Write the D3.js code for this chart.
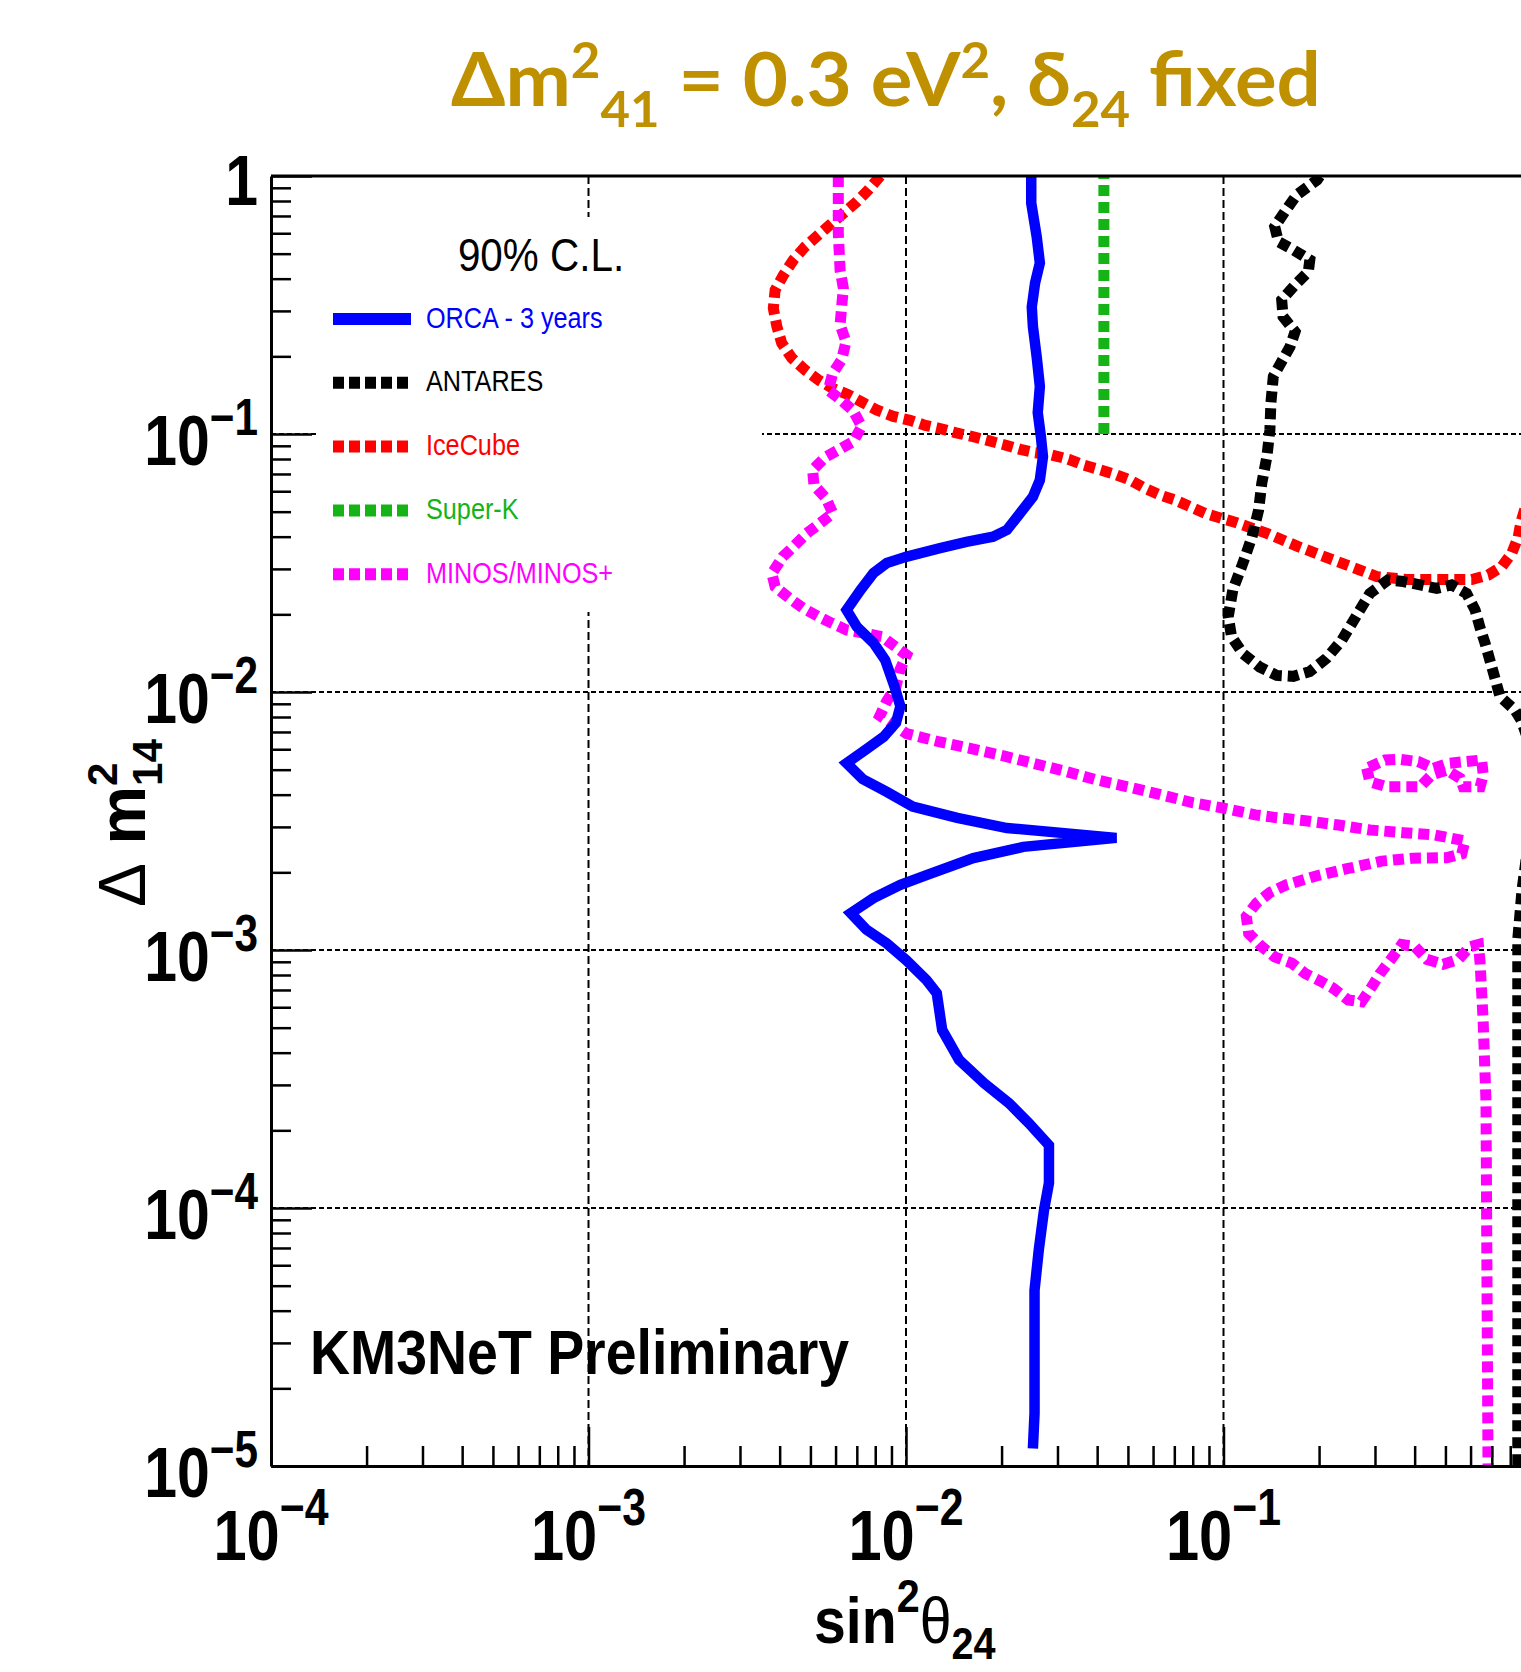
<!DOCTYPE html>
<html>
<head>
<meta charset="utf-8">
<title>KM3NeT ORCA sterile sensitivity</title>
<script src="https://cdn.jsdelivr.net/npm/d3@7"></script>
<style>
  body { margin: 0; background: #fff; }
  svg { display: block; }
</style>
</head>
<body>
<div id="chart"></div>
<script>
// every contour point is [sin^2 theta24, delta m^2 14]
var orca = [
  [0.0248, 1], [0.0248, 0.786], [0.0258, 0.582], [0.0264, 0.46], [0.0255, 0.385], [0.0249, 0.311],
  [0.0251, 0.261], [0.0258, 0.199], [0.0264, 0.153], [0.026, 0.121], [0.0266, 0.0976], [0.027, 0.0817],
  [0.0264, 0.0663], [0.0251, 0.0571], [0.0229, 0.0494], [0.0208, 0.0425], [0.0188, 0.040], [0.0155, 0.0382],
  [0.0128, 0.0361], [0.0100, 0.0334], [0.0087, 0.0316], [0.0079, 0.0289], [0.0072, 0.0249], [0.0065, 0.0208],
  [0.0070, 0.0179], [0.0079, 0.0155], [0.0086, 0.0133], [0.0092, 0.0105], [0.0096, 0.0088], [0.0093, 0.0076],
  [0.0085, 0.0067], [0.0075, 0.0060], [0.0065, 0.0053], [0.0073, 0.0046], [0.0087, 0.0041], [0.0105, 0.0036],
  [0.0145, 0.00325], [0.0208, 0.00297], [0.046, 0.00272], [0.0234, 0.00251], [0.0163, 0.00227], [0.0116, 0.00195],
  [0.0096, 0.00179], [0.0079, 0.00159], [0.0067, 0.00139], [0.0075, 0.0012], [0.0087, 0.00106], [0.0100, 0.000915],
  [0.0116, 0.000765], [0.0125, 0.00068], [0.0130, 0.00049], [0.0147, 0.000375], [0.0176, 0.000305], [0.0211, 0.000255],
  [0.0244, 0.000213], [0.0282, 0.000175], [0.0282, 0.000125], [0.0272, 0.000098], [0.0262, 0.000069], [0.0254, 0.000048],
  [0.0254, 0.000016], [0.0251, 0.0000117]
];
var antares = [
  [0.201, 1], [0.197, 0.965], [0.170, 0.844], [0.156, 0.727], [0.145, 0.636], [0.149, 0.556], [0.166, 0.517],
  [0.187, 0.473], [0.185, 0.426], [0.168, 0.378], [0.1525, 0.331], [0.154, 0.285], [0.168, 0.249], [0.162, 0.218],
  [0.1525, 0.191], [0.1435, 0.167], [0.141, 0.1315], [0.140, 0.1036], [0.137, 0.0817], [0.132, 0.0644],
  [0.129, 0.0507], [0.123, 0.040], [0.115, 0.0315], [0.107, 0.0249], [0.1035, 0.0196], [0.106, 0.0164],
  [0.115, 0.0141], [0.130, 0.0125], [0.147, 0.0116], [0.166, 0.0115], [0.187, 0.012], [0.211, 0.0135],
  [0.236, 0.0159], [0.250, 0.0179], [0.269, 0.0208], [0.289, 0.0241], [0.330, 0.0272], [0.368, 0.0268],
  [0.416, 0.026], [0.469, 0.0252], [0.523, 0.026], [0.583, 0.0241], [0.620, 0.0208], [0.643, 0.0177],
  [0.666, 0.0155], [0.700, 0.0125], [0.743, 0.0096], [0.828, 0.0085], [0.865, 0.0078], [0.957, 0.0055],
  [0.923, 0.0029], [0.871, 0.0017], [0.845, 0.0011], [0.845, 0.00001]
];
var icecube = [
  [0.0083, 1], [0.0076, 0.882], [0.0070, 0.795], [0.00635, 0.717], [0.00576, 0.646], [0.0053, 0.591],
  [0.00481, 0.532], [0.00442, 0.473], [0.00411, 0.413], [0.00387, 0.361], [0.00382, 0.307], [0.00392, 0.261],
  [0.00406, 0.225], [0.00437, 0.197], [0.00481, 0.177], [0.0053, 0.162], [0.0059, 0.150], [0.00658, 0.142],
  [0.00734, 0.132], [0.00808, 0.124], [0.00912, 0.117], [0.0103, 0.113], [0.0115, 0.108], [0.0128, 0.105],
  [0.0144, 0.101], [0.0163, 0.0976], [0.0182, 0.0942], [0.0205, 0.0907], [0.0229, 0.0872], [0.0255, 0.0846],
  [0.0288, 0.0829], [0.0325, 0.0798], [0.0362, 0.0758], [0.0403, 0.073], [0.0455, 0.0698], [0.0508, 0.0663],
  [0.0566, 0.0616], [0.0631, 0.058], [0.0703, 0.0555], [0.0784, 0.0523], [0.0874, 0.0493], [0.0987, 0.0471],
  [0.110, 0.0453], [0.137, 0.0412], [0.172, 0.0366], [0.214, 0.033], [0.269, 0.0297], [0.304, 0.028],
  [0.378, 0.0273], [0.475, 0.0273], [0.605, 0.0273], [0.682, 0.0284], [0.752, 0.0306], [0.809, 0.0345],
  [0.848, 0.040], [0.865, 0.0457], [0.897, 0.053]
];
var superK = [[0.042, 0.1], [0.042, 1]];
var minos = [
  [0.00612, 1], [0.00612, 0.601], [0.0062, 0.432], [0.00635, 0.367], [0.00627, 0.311], [0.0062, 0.265],
  [0.00647, 0.228], [0.00627, 0.194], [0.00588, 0.172], [0.00569, 0.148], [0.00627, 0.135], [0.00682, 0.123],
  [0.00725, 0.107], [0.00682, 0.0934], [0.00617, 0.0872], [0.00556, 0.0812], [0.00508, 0.0725], [0.00513, 0.0634],
  [0.0056, 0.0563], [0.00588, 0.0493], [0.00536, 0.0451], [0.00487, 0.0412], [0.00442, 0.0366], [0.00409, 0.0334],
  [0.00378, 0.0288], [0.00387, 0.0256], [0.00429, 0.0231], [0.00475, 0.0211], [0.0053, 0.0196], [0.00583, 0.0185],
  [0.0065, 0.0174], [0.00839, 0.0164], [0.00912, 0.0152], [0.01004, 0.0139], [0.00957, 0.0122], [0.0093, 0.0105],
  [0.00869, 0.0092], [0.00828, 0.0081], [0.01004, 0.0069], [0.0128, 0.0064], [0.0159, 0.00605], [0.0203, 0.00565],
  [0.0252, 0.00529], [0.0321, 0.00491], [0.0399, 0.00456], [0.0508, 0.00427], [0.0639, 0.00399], [0.0803, 0.00372],
  [0.101, 0.00354], [0.126, 0.00334], [0.1435, 0.00327], [0.181, 0.00317], [0.230, 0.00305], [0.289, 0.00292],
  [0.368, 0.00285], [0.464, 0.00279], [0.576, 0.00265], [0.563, 0.00236], [0.505, 0.00228], [0.396, 0.00227],
  [0.315, 0.00221], [0.247, 0.00207], [0.197, 0.00194], [0.158, 0.00179], [0.140, 0.00167], [0.127, 0.00152],
  [0.118, 0.00135], [0.120, 0.00116], [0.132, 0.00103], [0.145, 0.00094], [0.164, 0.00089], [0.181, 0.00081],
  [0.201, 0.00076], [0.222, 0.00071], [0.247, 0.00064], [0.272, 0.00063], [0.293, 0.00072], [0.311, 0.00081],
  [0.339, 0.00093], [0.364, 0.00105], [0.401, 0.00103], [0.437, 0.00092], [0.492, 0.00088], [0.549, 0.00092],
  [0.598, 0.00103], [0.635, 0.00105], [0.643, 0.00089], [0.657, 0.00054], [0.671, 0.00026], [0.681, 0.00001]
];
var minosLoop = [
  [0.2825, 0.00506], [0.289, 0.00449], [0.327, 0.00429], [0.368, 0.00429], [0.416, 0.00429], [0.4525, 0.00477],
  [0.505, 0.00498], [0.556, 0.00463], [0.569, 0.00429], [0.643, 0.00429], [0.658, 0.00477], [0.650, 0.00545],
  [0.576, 0.00537], [0.5105, 0.00529], [0.458, 0.00506], [0.411, 0.00537], [0.360, 0.00548], [0.323, 0.00545],
  [0.2825, 0.00506]
];

var xLabels = [1e-4, 1e-3, 1e-2, 1e-1, 1];
var yLabels = [1, 1e-1, 1e-2, 1e-3, 1e-4, 1e-5];
var legendNames = ["ORCA - 3 years", "ANTARES", "IceCube", "Super-K", "MINOS/MINOS+"];

var width = 1521, height = 1672;
var font = "'Liberation Sans', Arial, Helvetica, sans-serif";
var colors = {orca: "#0000ff", antares: "#000000", icecube: "#ff0000", superK: "#16b316", minos: "#ff00ff"};
var legendColors = [colors.orca, colors.antares, colors.icecube, colors.superK, colors.minos];

var x = d3.scaleLog().domain([1e-4, 1]).range([271, 1541]);
var y = d3.scaleLog().domain([1e-5, 1]).range([1466, 176]);

function isDecade(d) {
  var l = Math.log10(d);
  return Math.abs(l - Math.round(l)) < 1e-9;
}

var svg = d3.select("#chart").append("svg")
    .attr("width", width)
    .attr("height", height);

svg.append("rect").attr("width", width).attr("height", height).attr("fill", "#fff");

svg.append("defs").append("clipPath").attr("id", "plotclip")
  .append("rect")
    .attr("x", x(1e-4)).attr("y", y(1))
    .attr("width", x(1) - x(1e-4)).attr("height", y(1e-5) - y(1));

// title
var title = svg.append("text")
    .attr("fill", "#bf9000")
    .style("font-family", "Lato, 'Open Sans', sans-serif")
    .style("font-weight", "bold")
    .style("font-size", "75px");
title.append("tspan").text("\u0394m");
title.append("tspan").attr("dy", -28).style("font-size", "49px").text("2");
title.append("tspan").attr("dy", 49).style("font-size", "49px").text("41");
title.append("tspan").attr("dy", -21).text(" = 0.3 eV");
title.append("tspan").attr("dy", -28).style("font-size", "49px").text("2");
title.append("tspan").attr("dy", 28).text(", \u03b4");
title.append("tspan").attr("dy", 21).style("font-size", "49px").text("24");
title.append("tspan").attr("dy", -21).text(" fixed");
var tw = title.node().getBBox().width;
title.attr("transform", "translate(451,106) scale(" + (870 / tw) + ",1)");

// grid
var grid = svg.append("g").attr("stroke", "#000").attr("stroke-width", 2).attr("fill", "none");
grid.selectAll(".gx").data(xLabels.slice(1, 4)).enter().append("line")
    .attr("x1", function (d) { return x(d); })
    .attr("x2", function (d) { return x(d); })
    .attr("y1", y(1)).attr("y2", y(1e-5))
    .attr("stroke-dasharray", "8,4");
grid.selectAll(".gy").data(yLabels.slice(1, 5)).enter().append("line")
    .attr("y1", function (d) { return y(d); })
    .attr("y2", function (d) { return y(d); })
    .attr("x1", x(1e-4)).attr("x2", x(1))
    .attr("stroke-dasharray", "5,3");

// legend
var lg = svg.append("g");
lg.append("rect").attr("x", 316).attr("y", 217).attr("width", 446).attr("height", 395).attr("fill", "#fff");
lg.append("text")
    .attr("transform", "translate(541,271) scale(0.86,1)")
    .attr("text-anchor", "middle")
    .style("font-family", font).style("font-size", "47px")
    .text("90% C.L.");
legendNames.forEach(function (name, i) {
  var ry = 319 + i * 63.8;
  var l = lg.append("line")
      .attr("x1", 333).attr("x2", i === 0 ? 411 : 408)
      .attr("y1", ry).attr("y2", ry)
      .attr("stroke", legendColors[i]).attr("stroke-width", 12);
  if (i > 0) l.attr("stroke-dasharray", "11,5");
  lg.append("text")
      .attr("transform", "translate(426," + (ry + 8.5) + ") scale(0.87,1)")
      .attr("fill", legendColors[i])
      .style("font-family", font).style("font-size", "29px")
      .text(name);
});

// contours
var line = d3.line()
    .x(function (d) { return x(d[0]); })
    .y(function (d) { return y(d[1]); });

var curves = svg.append("g").attr("clip-path", "url(#plotclip)").attr("fill", "none");
function dotted(data, color) {
  curves.append("path").datum(data)
      .attr("d", line)
      .attr("stroke", color)
      .attr("stroke-width", 11)
      .attr("stroke-dasharray", "11,6");
}
dotted(icecube, colors.icecube);
dotted(antares, colors.antares);
dotted(superK, colors.superK);
dotted(minos, colors.minos);
dotted(minosLoop, colors.minos);
curves.append("path").datum(orca)
    .attr("d", line)
    .attr("stroke", colors.orca)
    .attr("stroke-width", 10.5)
    .attr("stroke-linejoin", "miter")
    .attr("stroke-miterlimit", 4);

// axes
var yMinor = y.ticks().filter(function (d) { return !isDecade(d); });
var xMinor = x.ticks().filter(function (d) { return !isDecade(d); });

function styleAxis(g, keepDomain) {
  g.selectAll("text").remove();
  g.selectAll(".tick line").attr("stroke", "#000").attr("stroke-width", 2.5);
  if (keepDomain) g.select(".domain").attr("stroke", "#000").attr("stroke-width", 3);
  else g.select(".domain").remove();
}

var yAxisG = svg.append("g").attr("transform", "translate(" + x(1e-4) + ",0)");
yAxisG.append("g").call(d3.axisLeft(y).tickValues(yMinor).tickSizeInner(-20).tickSizeOuter(0).tickFormat(""))
    .call(styleAxis, false);
yAxisG.append("g").call(d3.axisLeft(y).tickValues(yLabels).tickSizeInner(-41).tickSizeOuter(0).tickFormat(""))
    .call(styleAxis, true);

var xAxisG = svg.append("g").attr("transform", "translate(0," + y(1e-5) + ")");
xAxisG.append("g").call(d3.axisBottom(x).tickValues(xMinor).tickSizeInner(-20).tickSizeOuter(0).tickFormat(""))
    .call(styleAxis, false);
xAxisG.append("g").call(d3.axisBottom(x).tickValues(xLabels).tickSizeInner(-39).tickSizeOuter(0).tickFormat(""))
    .call(styleAxis, true);

svg.append("line")
    .attr("x1", x(1e-4)).attr("x2", x(1))
    .attr("y1", y(1)).attr("y2", y(1))
    .attr("stroke", "#000").attr("stroke-width", 3);
svg.append("line")
    .attr("x1", x(1)).attr("x2", x(1))
    .attr("y1", y(1)).attr("y2", y(1e-5))
    .attr("stroke", "#000").attr("stroke-width", 3);

// tick labels 10^n
function powerLabel(t, v, rise) {
  var e = Math.round(Math.log10(v));
  if (e === 0) { t.append("tspan").text("1"); return; }
  t.append("tspan").text("10");
  t.append("tspan").attr("dy", -rise).style("font-size", "51px").text("\u2212" + (-e));
}
yLabels.forEach(function (v) {
  var t = svg.append("text")
      .attr("transform", "translate(258," + (y(v) + (v === 1 ? 29 : 31)) + ") scale(0.83,1)")
      .attr("text-anchor", "end")
      .style("font-family", font).style("font-weight", "bold").style("font-size", "71px");
  powerLabel(t, v, 30);
});
// the frame's right end lies past the picture edge, so only the visible decades get a label
xLabels.filter(function (v) { return x(v) + 40 < width; }).forEach(function (v) {
  var t = svg.append("text")
      .attr("transform", "translate(" + x(v) + ",1560) scale(0.84,1)")
      .attr("text-anchor", "middle")
      .style("font-family", font).style("font-weight", "bold").style("font-size", "71px");
  powerLabel(t, v, 35);
});

// axis titles
var xt = svg.append("text")
    .attr("transform", "translate(814,1643) scale(0.88,1)")
    .style("font-family", font).style("font-weight", "bold").style("font-size", "65px");
xt.append("tspan").text("sin");
xt.append("tspan").attr("dy", -31).style("font-size", "47px").text("2");
xt.append("tspan").attr("dy", 31).style("font-weight", "normal").text("\u03b8");
xt.append("tspan").attr("dy", 16).style("font-size", "45px").text("24");

var yt = svg.append("g").attr("transform", "translate(145,907) rotate(-90)");
var ytMain = yt.append("text")
    .style("font-family", font).style("font-size", "66px");
ytMain.append("tspan").text("\u0394");
ytMain.append("tspan").style("font-weight", "bold").text(" m");
var yl = ytMain.node().getComputedTextLength();
yt.append("text").attr("x", yl).attr("y", -28)
    .style("font-family", font).style("font-weight", "bold").style("font-size", "42px").text("2");
yt.append("text").attr("x", yl).attr("y", 17)
    .style("font-family", font).style("font-weight", "bold").style("font-size", "42px").text("14");

// label inside the frame
svg.append("text")
    .attr("transform", "translate(310,1374) scale(0.88,1)")
    .style("font-family", font).style("font-weight", "bold").style("font-size", "63px")
    .text("KM3NeT Preliminary");
</script>
</body>
</html>
